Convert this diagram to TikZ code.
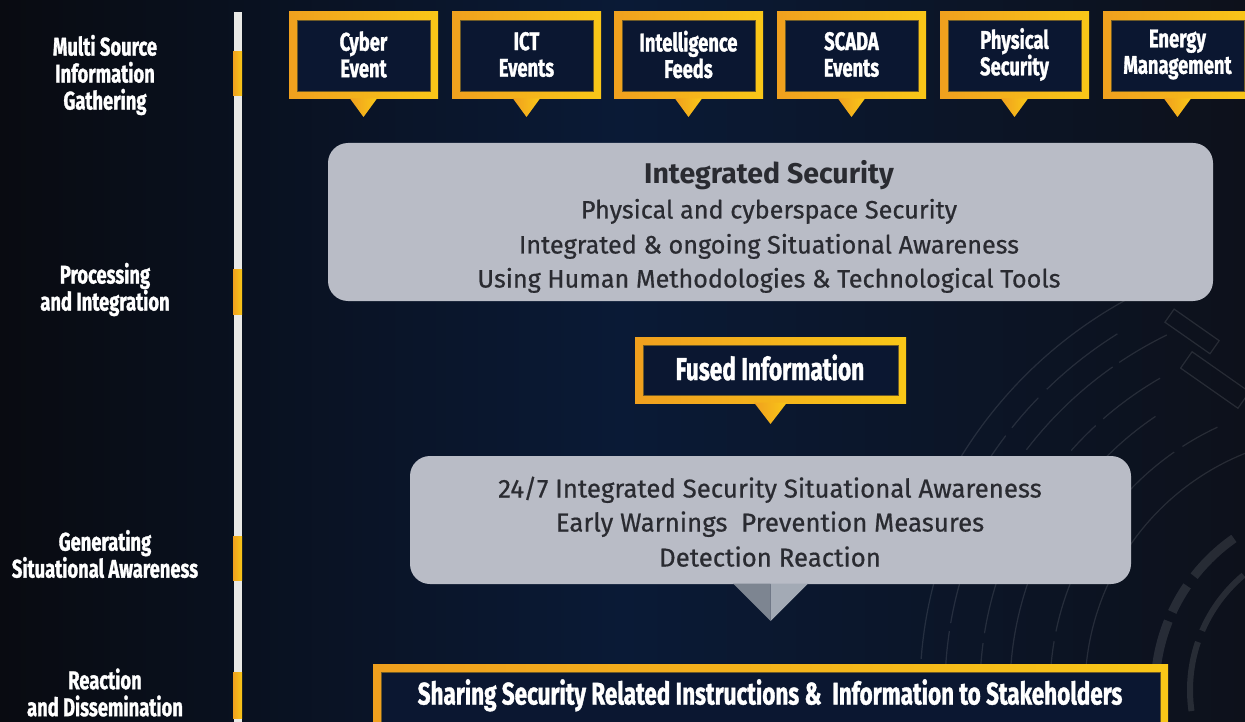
\documentclass[tikz,border=0pt]{standalone}
\usepackage{fontspec}
\setmainfont{Fira Sans}
\newfontfamily\condf{Fira Sans}[FakeStretch=0.72,BoldFeatures={FakeBold=1.2}]
\newfontfamily\grayf{Fira Sans}[FakeBold=0.6]
\definecolor{bgL}{HTML}{090B11}
\definecolor{bgM}{HTML}{0A1A36}
\definecolor{bgR}{HTML}{0D111B}
\definecolor{orgL}{HTML}{F0A01E}
\definecolor{orgR}{HTML}{F9C718}
\definecolor{boxgray}{HTML}{B9BCC6}
\definecolor{txtdark}{HTML}{2A2B31}
\definecolor{innerbg}{HTML}{0B1731}
\definecolor{innerline}{HTML}{6E5A26}
\definecolor{railwhite}{HTML}{E9E9E6}
\definecolor{tipdark}{HTML}{7D8591}
\definecolor{tiplight}{HTML}{A3AAB5}
\begin{document}
\begin{tikzpicture}[x=1pt,y=-1pt,
  condtext/.style={text=white,align=center,font=\condf\bfseries\fontsize{25.5}{26.5}\selectfont,inner sep=0pt},
  sidelabel/.style={text=white,align=center,font=\condf\bfseries\fontsize{25.5}{27}\selectfont,inner sep=0pt},
  graybox/.style={fill=boxgray,rounded corners=20pt,inner sep=0pt},
  grayline/.style={text=txtdark,font=\grayf\fontsize{25.2}{28}\selectfont,anchor=base,inner sep=0pt},
  grayline2/.style={grayline,font=\grayf\fontsize{25.8}{28}\selectfont},
  arcdeco/.style={draw=white,draw opacity=0.11,line width=1.2pt}]
\useasboundingbox (0,0) rectangle (1245,722);
\clip (0,0) rectangle (1245,722);
% background
\shade[left color=bgL,right color=bgR,middle color=bgM] (0,0) rectangle (1245,722);
% circuit decoration
\begin{scope}[arcdeco]
  \draw (1340,690) ++(242:445) arc[start angle=242,end angle=200,radius=445];
  \draw[dash pattern=on 90pt off 12pt on 40pt off 10pt] (1340,690) ++(238:420) arc[start angle=238,end angle=175,radius=420];
  \draw[dash pattern=on 55pt off 8pt on 120pt off 8pt] (1340,690) ++(244:395) arc[start angle=244,end angle=172,radius=395];
  \draw[dash pattern=on 70pt off 10pt on 35pt off 10pt] (1340,690) ++(240:360) arc[start angle=240,end angle=170,radius=360];
  \draw[dash pattern=on 120pt off 12pt on 45pt off 12pt] (1340,690) ++(236:330) arc[start angle=236,end angle=170,radius=330];
  \draw[dash pattern=on 40pt off 10pt on 80pt off 10pt] (1340,690) ++(245:290) arc[start angle=245,end angle=172,radius=290];
  \draw (1340,690) ++(250:255) arc[start angle=250,end angle=175,radius=255];
  \draw[line width=9pt,dash pattern=on 55pt off 12pt on 30pt off 10pt] (1340,690) ++(235:185) arc[start angle=235,end angle=165,radius=185];
  \draw[line width=6pt,dash pattern=on 70pt off 12pt] (1340,690) ++(230:150) arc[start angle=230,end angle=165,radius=150];
  \draw[rotate around={-35:(1215,380)}] (1180,370) rectangle (1250,390);
  \draw[rotate around={-35:(1190,330)}] (1165,322) rectangle (1220,338);
\end{scope}
% left rail
\fill[railwhite] (234,12) rectangle (242,722);
\foreach \ya/\yb in {52/96,269/314,536/580,672/718}
  \shade[left color=orgL,right color=orgR] (233,\ya) rectangle (242,\yb);
% side labels
\node[sidelabel] (lab1) at (105,75) {Multi Source\\Information\\Gathering};
\node[sidelabel] (lab2) at (105,289.5) {Processing\\and Integration};
\node[sidelabel] (lab3) at (105,554) {Generating\\Situational Awareness};
\node[sidelabel] (lab4) at (105,692.5) {Reaction\\and Dissemination};
% top callouts
\foreach \i/\x/\t in {1/289/{Cyber\\Event},2/452/{ICT\\Events},3/614/{Intelligence\\Feeds},4/777/{SCADA\\Events},5/940/{Physical\\Security},6/1103/{Energy\\Management}}{
  \pgfmathsetmacro\xr{\x+149}
  \pgfmathsetmacro\xc{\x+74.5}
  \shade[left color=orgL,right color=orgR] (\x,12) rectangle (\xr,99);
  \shade[left color=orgL,right color=orgR] (\xc-13.5,98.5) -- (\xc+13.5,98.5) -- (\xc,117) -- cycle;
  \fill[innerbg,draw=innerline,line width=0.8pt] (\x+8,20) rectangle (\xr-8,91);
  \node[condtext] (src\i) at (\xc,54.5) {\t};
}
% integrated security box
\node[graybox,minimum width=885pt,minimum height=158pt] (integ) at (770.5,222) {};
\node[grayline,font=\bfseries\fontsize{28.5}{30}\selectfont] (integT) at (769,184) {Integrated Security};
\node[grayline] (integ1) at (769,218.5) {Physical and cyberspace Security};
\node[grayline] (integ2) at (769,253.5) {Integrated \& ongoing Situational Awareness};
\node[grayline] (integ3) at (769,287.5) {Using Human Methodologies \& Technological Tools};
% fused information
\shade[left color=orgL,right color=orgR] (635,337) rectangle (906,403);
\shade[left color=orgL,right color=orgR] (754,402.5) -- (787,402.5) -- (770.5,424) -- cycle;
\fill[innerbg,draw=innerline,line width=0.8pt] (643,345) rectangle (898,395);
\node[condtext,font=\condf\bfseries\fontsize{31.5}{32}\selectfont,anchor=base] (fused) at (770,380) {Fused Information};
% awareness box
\node[graybox,minimum width=721pt,minimum height=128pt] (aware) at (770.5,520) {};
\node[grayline2] (aware1) at (770,497.5) {24/7 Integrated Security Situational Awareness};
\node[grayline2] (aware2) at (770,531.5) {Early Warnings\ \ Prevention Measures};
\node[grayline2] (aware3) at (770,566.5) {Detection Reaction};
\fill[tipdark] (733,583.5) -- (770.7,583.5) -- (770.7,621) -- cycle;
\fill[tiplight] (770.7,583.5) -- (808,583.5) -- (770.7,621) -- cycle;
% sharing box
\shade[left color=orgL,right color=orgR] (373,664) rectangle (1168,740);
\fill[innerbg,draw=innerline,line width=0.8pt] (381,672) rectangle (1160,740);
\node[condtext,font=\condf\bfseries\fontsize{31.2}{30}\selectfont,anchor=base] (share) at (770,704.5) {Sharing Security Related Instructions \&\ \ Information to Stakeholders};
\end{tikzpicture}
\end{document}
